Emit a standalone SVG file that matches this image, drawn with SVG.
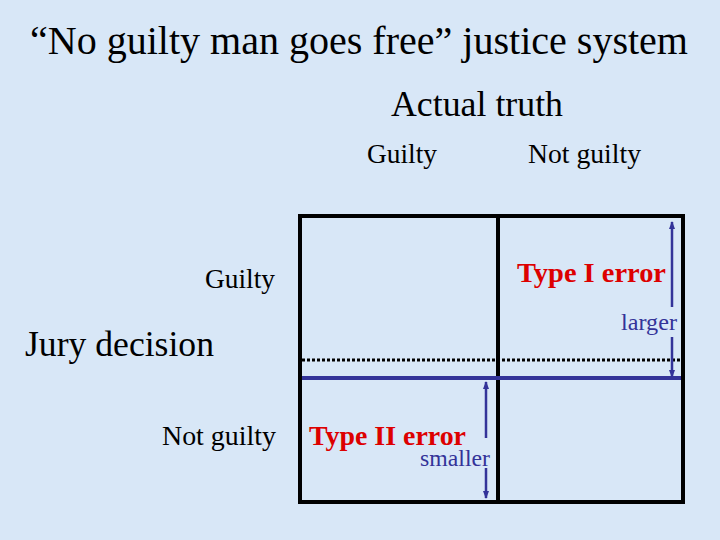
<svg xmlns="http://www.w3.org/2000/svg" width="720" height="540" viewBox="0 0 720 540">
  <defs>
    <marker id="ah" markerWidth="8" markerHeight="10" refX="7" refY="4" orient="auto" markerUnits="userSpaceOnUse">
      <path d="M0,1 L8,4 L0,7 Z" fill="#333399"/>
    </marker>
  </defs>
  <style>
    .err { font-weight: bold; fill: #dd0000; font-size: 27px; }
    .blue { fill: #333399; font-size: 23px; }
    .box { fill: none; stroke: #000; stroke-width: 4; }
    .arr { stroke: #333399; stroke-width: 2.5; fill: none; }
  </style>
  <rect width="720" height="540" fill="#d8e7f7"/>

  <g font-family="Liberation Serif, DejaVu Serif, serif" fill="#000">
  <g id="title">
    <text x="30" y="54" font-size="40" textLength="658" lengthAdjust="spacingAndGlyphs">“No guilty man goes free” justice system</text>
  </g>
  <g id="actual-truth">
    <text x="391" y="116" font-size="36" textLength="172" lengthAdjust="spacingAndGlyphs">Actual truth</text>
  </g>
  <g id="col-guilty">
    <text x="367" y="163" font-size="27" textLength="70" lengthAdjust="spacingAndGlyphs">Guilty</text>
  </g>
  <g id="col-not-guilty">
    <text x="528" y="163" font-size="27" textLength="113" lengthAdjust="spacingAndGlyphs">Not guilty</text>
  </g>
  <g id="row-guilty">
    <text x="205" y="288" font-size="27" textLength="70" lengthAdjust="spacingAndGlyphs">Guilty</text>
  </g>
  <g id="jury-decision">
    <text x="25" y="356" font-size="36" textLength="189" lengthAdjust="spacingAndGlyphs">Jury decision</text>
  </g>
  <g id="row-not-guilty">
    <text x="162" y="445" font-size="27" textLength="114" lengthAdjust="spacingAndGlyphs">Not guilty</text>
  </g>

  <g id="type1">
    <text class="err" x="517" y="282" textLength="149" lengthAdjust="spacingAndGlyphs">Type I error</text>
    <text class="blue" x="621" y="330" textLength="56" lengthAdjust="spacingAndGlyphs">larger</text>
  </g>
  <g id="type2">
    <text class="err" x="309" y="445" textLength="157" lengthAdjust="spacingAndGlyphs">Type II error</text>
    <text class="blue" x="420" y="466" textLength="70" lengthAdjust="spacingAndGlyphs">smaller</text>
  </g>
  </g>

  <g id="table">
    <rect class="box" x="300" y="216" width="383" height="286"/>
    <line x1="498" y1="216" x2="498" y2="502" stroke="#000" stroke-width="4"/>
    <line x1="302" y1="360" x2="681" y2="360" stroke="#000" stroke-width="3" stroke-dasharray="3 2"/>
    <line x1="302" y1="378" x2="681" y2="378" stroke="#333399" stroke-width="4"/>
  </g>

  <g id="connectors">
    <line class="arr" x1="672" y1="307" x2="672" y2="222" marker-end="url(#ah)"/>
    <line class="arr" x1="672" y1="337" x2="672" y2="377" marker-end="url(#ah)"/>
    <line class="arr" x1="486" y1="438" x2="486" y2="382" marker-end="url(#ah)"/>
    <line class="arr" x1="486" y1="468" x2="486" y2="498" marker-end="url(#ah)"/>
  </g>
</svg>
